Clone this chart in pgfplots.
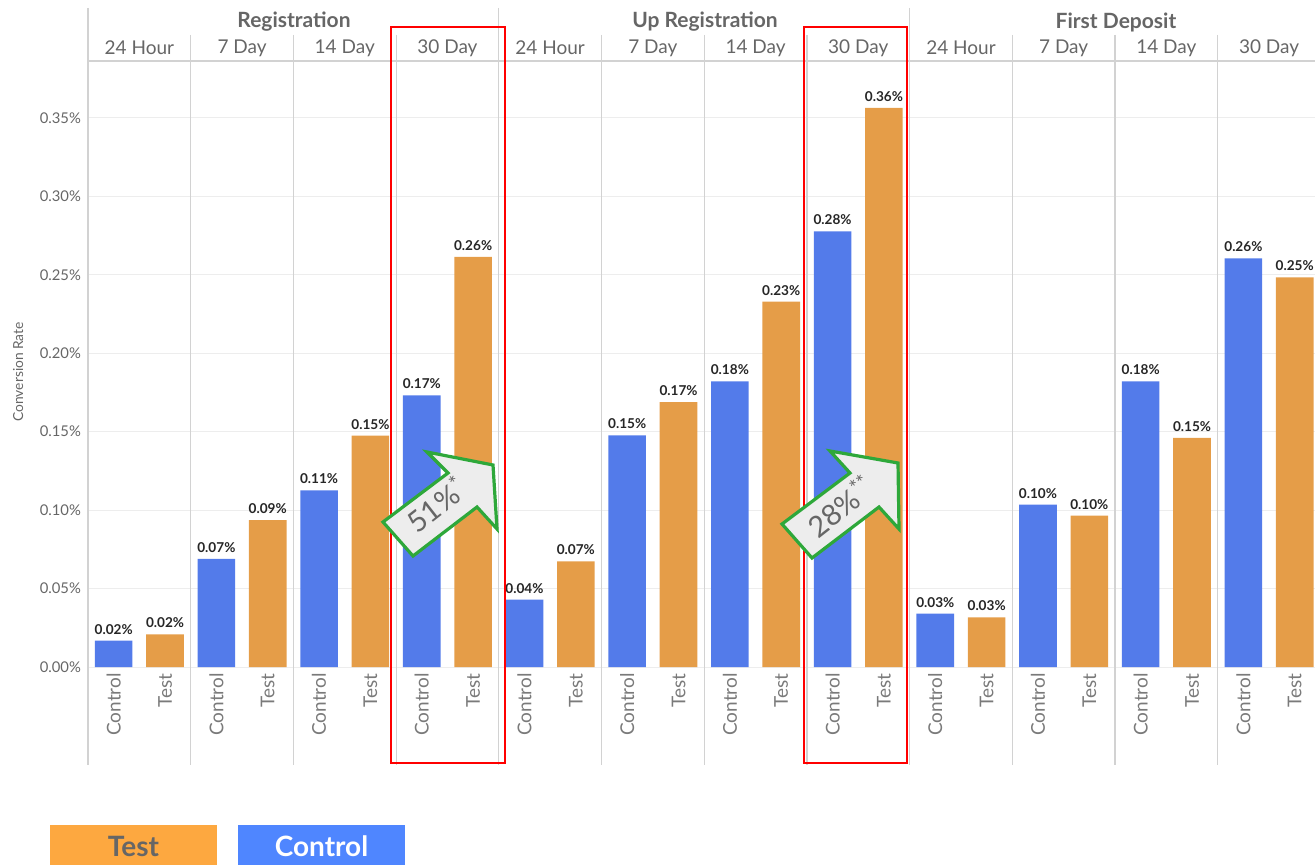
\documentclass[border=0pt]{standalone}
\usepackage{pgfplots}
\pgfplotsset{compat=1.18}
\usepackage{pgfplotstable}
\usepackage{fontspec}
\setmainfont{Lato}
\definecolor{ctrl}{HTML}{537BEA}
\definecolor{testc}{HTML}{E59D48}
\definecolor{txt}{HTML}{666666}
\definecolor{lbl}{HTML}{7A7A7A}
\definecolor{sep}{HTML}{D2D2D2}
\definecolor{grn}{HTML}{2EA83A}
\definecolor{legtest}{HTML}{FDA840}
\definecolor{legctrl}{HTML}{4F86FF}

\pgfplotstableread{
x y
0.5 0.0168
2.5 0.0690
4.5 0.1126
6.5 0.1731
8.5 0.0429
10.5 0.1476
12.5 0.1821
14.5 0.2777
16.5 0.0340
18.5 0.1035
20.5 0.1821
22.5 0.2605
}\controldata

\pgfplotstableread{
x y
1.5 0.0208
3.5 0.0937
5.5 0.1475
7.5 0.2614
9.5 0.0673
11.5 0.1689
13.5 0.2329
15.5 0.3564
17.5 0.0316
19.5 0.0965
21.5 0.1460
23.5 0.2484
}\testdata

\begin{document}
\begin{tikzpicture}
\path[use as bounding box] (0,0) rectangle (657.5pt,-432.5pt);
\begin{axis}[
  at={(44pt,-333.5pt)}, anchor=south west,
  scale only axis, width=613.5pt, height=303pt,
  xmin=0, xmax=23.895, ymin=0, ymax=0.3863,
  clip=false,
  /pgf/number format/assume math mode=true,
  axis line style={draw=none},
  major tick length=0pt,
  ytick={0,0.05,0.1,0.15,0.2,0.25,0.3,0.35},
  ymajorgrids, grid style={draw=black!7, line width=0.5pt},
  yticklabel={\pgfmathprintnumber[fixed,fixed zerofill,precision=2]{\tick}\%},
  yticklabel style={font=\fontsize{7.4}{9}\selectfont, text=txt},
  ylabel={Conversion Rate},
  ylabel style={at={(axis description cs:-0.057,0.487)}, anchor=center, font=\fontsize{6.9}{8}\selectfont, text=txt},
  xtick={0.5,1.5,...,23.5},
  xticklabels={Control,Test,Control,Test,Control,Test,Control,Test,Control,Test,Control,Test,Control,Test,Control,Test,Control,Test,Control,Test,Control,Test,Control,Test},
  xticklabel style={rotate=90, anchor=east, font=\fontsize{9.5}{11}\selectfont, text=lbl, inner sep=3pt},
  ybar, bar width=18.8pt,
  nodes near coords={\pgfmathprintnumber[fixed,fixed zerofill,precision=2]{\pgfplotspointmeta}\%},
  nodes near coords style={font=\fontsize{6.8}{8}\selectfont\bfseries, text=black!85, inner sep=3pt},
]
\addplot[bar shift=0pt, fill=ctrl, draw=none] table[x=x,y=y] {\controldata};
\addplot[bar shift=0pt, fill=testc, draw=none] table[x=x,y=y] {\testdata};
\end{axis}
\begin{scope}[x=0.5pt, y=-0.5pt]
  % separators
  \foreach \u in {0,8,16} {\draw[sep, line width=0.6pt] (88+51.35*\u,8) -- (88+51.35*\u,765);}
  \foreach \u in {2,4,6,10,12,14,18,20,22} {\draw[sep, line width=0.6pt] (88+51.35*\u,35) -- (88+51.35*\u,765);}
  \draw[sep, line width=0.6pt] (88,61) -- (1315,61);
  % headers
  \foreach \t/\c in {Registration/294, Up Registration/705, First Deposit/1116}
    {\node[font=\fontsize{10.5}{12}\selectfont\bfseries, text=txt] at (\c,22) {\t};}
  \foreach \t [count=\i from 0] in {24 Hour,7 Day,14 Day,30 Day,24 Hour,7 Day,14 Day,30 Day,24 Hour,7 Day,14 Day,30 Day}
    {\node[font=\fontsize{9.5}{11}\selectfont, text=txt] at (88+51.35*2*\i+51.35,48) {\t};}
  % red boxes
  \draw[red, line width=1pt] (391,27) rectangle (505,763);
  \draw[red, line width=1pt] (804,27) rectangle (907,763);
  % arrows
  \filldraw[fill=black!7, draw=grn, line width=1.6pt, line join=miter]
    (427,452) -- (493,465) -- (497,529) -- (477,507) -- (413,556) -- (383,522) -- (448,473) -- cycle;
  \node[rotate=38, text=txt, font=\fontsize{14.5}{16}\selectfont, inner sep=0pt] at (436,504) {51\%\textsuperscript{*}};
  \filldraw[fill=black!7, draw=grn, line width=1.6pt, line join=miter]
    (830,451) -- (898,463) -- (899,529) -- (879,507) -- (812,558) -- (782,524) -- (850,473) -- cycle;
  \node[rotate=38, text=txt, font=\fontsize{14.5}{16}\selectfont, inner sep=0pt] at (840,506) {28\%\textsuperscript{**}};
  % legend
  \fill[legtest] (50,825) rectangle (217,865);
  \node[font=\fontsize{14}{16}\selectfont\bfseries, text=txt] at (133.5,846) {Test};
  \fill[legctrl] (238,825) rectangle (405,865);
  \node[font=\fontsize{14}{16}\selectfont\bfseries, text=white] at (321.5,846) {Control};
\end{scope}
\end{tikzpicture}
\end{document}
